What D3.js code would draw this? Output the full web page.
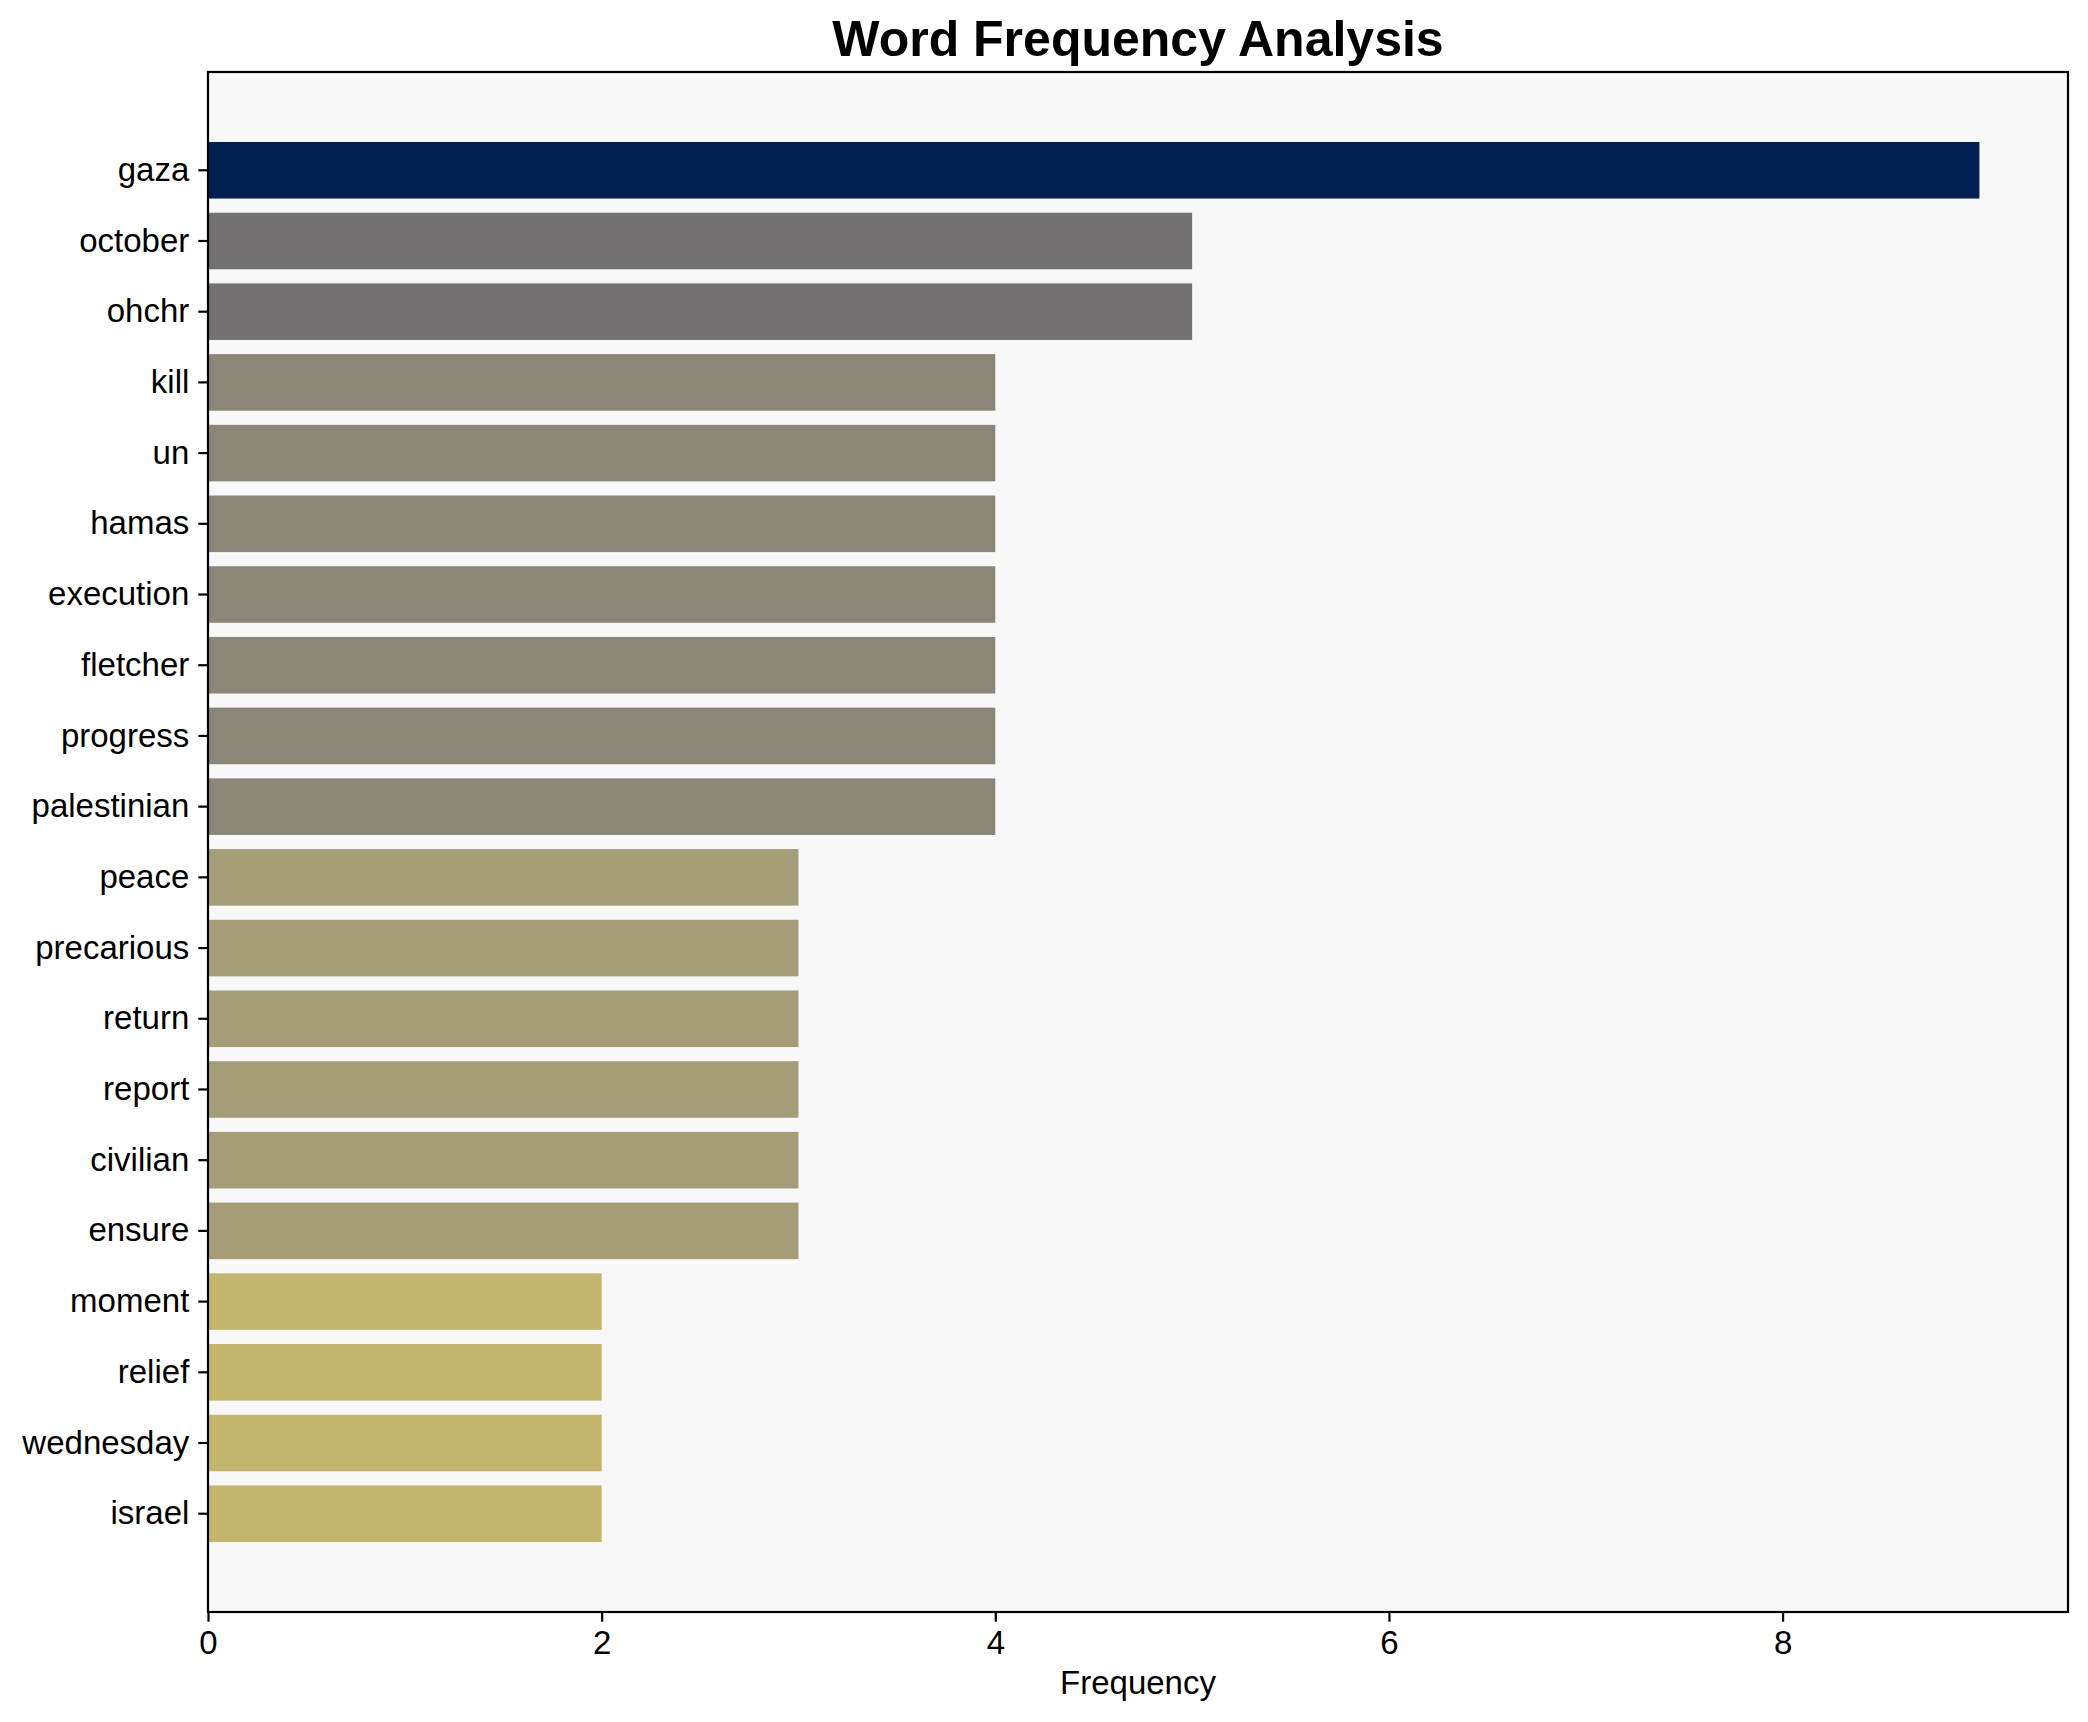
<!DOCTYPE html>
<html>
<head>
<meta charset="utf-8">
<script src="https://cdn.jsdelivr.net/npm/d3@7"></script>
<style>
  body { margin: 0; background: #fff; }
  svg text { font-family: "Liberation Sans", Arial, sans-serif; fill: #000; }
</style>
</head>
<body>
<svg id="chart" width="2088" height="1722"></svg>
<script>
// words, top to bottom
const words = ['gaza', 'october', 'ohchr', 'kill', 'un', 'hamas', 'execution', 'fletcher',
  'progress', 'palestinian', 'peace', 'precarious', 'return', 'report', 'civilian',
  'ensure', 'moment', 'relief', 'wednesday', 'israel'];
const counts = [9, 5, 5, 4, 4, 4, 4, 4, 4, 4, 3, 3, 3, 3, 3, 3, 2, 2, 2, 2];
const xTicks = [0, 2, 4, 6, 8];

const W = 2088, H = 1722;
const margin = { top: 72, right: 20, bottom: 110, left: 208 };
const plotW = W - margin.left - margin.right;
const plotH = H - margin.top - margin.bottom;

const svg = d3.select('#chart');

const maxCount = d3.max(counts);
// darker = more frequent (cividis reversed)
const color = v => d3.interpolateCividis(1 - v / maxCount);

const x = d3.scaleLinear().domain([0, maxCount * 1.05]).range([0, plotW]);
const y = d3.scaleBand().domain(words).range([0, plotH])
  .paddingInner(0.2).paddingOuter(0.99);

const g = svg.append('g').attr('transform', `translate(${margin.left},${margin.top})`);

g.append('rect')
  .attr('width', plotW).attr('height', plotH)
  .attr('fill', '#f8f8f8');

g.selectAll('.bar')
  .data(words)
  .enter()
  .append('rect')
  .classed('bar', true)
  .attr('x', 0)
  .attr('y', d => y(d))
  .attr('width', (d, i) => x(counts[i]))
  .attr('height', y.bandwidth())
  .attr('fill', (d, i) => color(counts[i]));

// axes
const tickLen = 9.7;
const xAxis = g.append('g')
  .attr('transform', `translate(0,${plotH})`)
  .call(d3.axisBottom(x).tickValues(xTicks).tickFormat(d3.format('d'))
    .tickSize(tickLen).tickPadding(9));
const yAxis = g.append('g')
  .call(d3.axisLeft(y).tickSize(tickLen).tickPadding(9));

[xAxis, yAxis].forEach(a => {
  a.select('.domain').remove();
  a.selectAll('.tick line').attr('stroke', '#000').attr('stroke-width', 2.2);
  a.selectAll('.tick text').style('font-size', '33px');
});

// frame
g.append('rect')
  .attr('width', plotW).attr('height', plotH)
  .attr('fill', 'none').attr('stroke', '#000').attr('stroke-width', 2.2);

svg.append('text')
  .attr('x', margin.left + plotW / 2).attr('y', 56)
  .attr('text-anchor', 'middle')
  .style('font-size', '50px').style('font-weight', 'bold')
  .text('Word Frequency Analysis');

svg.append('text')
  .attr('x', margin.left + plotW / 2).attr('y', 1694)
  .attr('text-anchor', 'middle')
  .style('font-size', '33px')
  .text('Frequency');
</script>
</body>
</html>
